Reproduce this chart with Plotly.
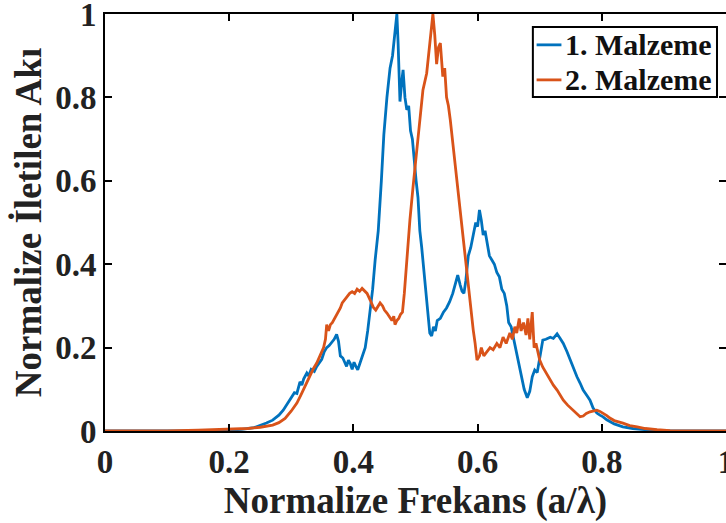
import plotly.graph_objects as go

# Series 1 (blue) - "1. Malzeme"
x1 = [0.00, 0.10, 0.18, 0.20, 0.22, 0.24, 0.25, 0.26, 0.27, 0.28, 0.287, 0.295, 0.300, 0.305, 0.309,
      0.312, 0.314, 0.317, 0.320, 0.325, 0.328, 0.332, 0.337, 0.341, 0.345, 0.349, 0.353, 0.357, 0.361,
      0.365, 0.369, 0.373, 0.376, 0.379, 0.383, 0.386, 0.389, 0.392, 0.395, 0.398, 0.401, 0.404, 0.407,
      0.410, 0.413, 0.416, 0.419, 0.423, 0.427, 0.431, 0.435, 0.440, 0.445, 0.449, 0.454, 0.459, 0.463,
      0.467, 0.470, 0.472, 0.475, 0.478, 0.480, 0.483, 0.486, 0.489, 0.492, 0.495, 0.498, 0.501, 0.504,
      0.507, 0.510, 0.514, 0.518, 0.521, 0.523, 0.526, 0.529, 0.532, 0.535, 0.540, 0.545, 0.550, 0.555,
      0.560, 0.565, 0.568, 0.572, 0.575, 0.578, 0.581, 0.585, 0.589, 0.593, 0.597, 0.600, 0.603, 0.606,
      0.609, 0.612, 0.615, 0.619, 0.623, 0.627, 0.631, 0.635, 0.639, 0.643, 0.647, 0.650, 0.654, 0.658,
      0.663, 0.667, 0.671, 0.675, 0.680, 0.684, 0.688, 0.692, 0.696, 0.700, 0.705, 0.710, 0.717, 0.722,
      0.728, 0.733, 0.738, 0.744, 0.749, 0.755, 0.760, 0.765, 0.770, 0.776, 0.781, 0.786, 0.792, 0.797,
      0.802, 0.808, 0.813, 0.820, 0.834, 0.850, 0.878, 0.900, 1.000]
y1 = [0.000, 0.000, 0.001, 0.002, 0.004, 0.008, 0.013, 0.019, 0.026, 0.038, 0.050, 0.068, 0.082, 0.092, 0.090,
      0.105, 0.118, 0.110, 0.125, 0.139, 0.132, 0.148, 0.143, 0.155, 0.165, 0.172, 0.190, 0.200, 0.205,
      0.212, 0.220, 0.232, 0.215, 0.180, 0.175, 0.165, 0.155, 0.170, 0.162, 0.148, 0.165, 0.155, 0.147,
      0.160, 0.175, 0.188, 0.200, 0.240, 0.290, 0.340, 0.410, 0.480, 0.600, 0.710, 0.800, 0.870, 0.900,
      0.960, 1.000, 0.930, 0.790, 0.840, 0.866, 0.800, 0.770, 0.780, 0.720, 0.700, 0.640, 0.600, 0.560,
      0.480, 0.440, 0.380, 0.320, 0.270, 0.235, 0.228, 0.250, 0.240, 0.265, 0.270, 0.285, 0.295, 0.310,
      0.330, 0.360, 0.374, 0.350, 0.335, 0.330, 0.360, 0.420, 0.440, 0.470, 0.500, 0.490, 0.530, 0.505,
      0.470, 0.480, 0.450, 0.420, 0.410, 0.400, 0.380, 0.370, 0.340, 0.330, 0.300, 0.260, 0.250, 0.220,
      0.190, 0.160, 0.130, 0.100, 0.080, 0.095, 0.130, 0.146, 0.140, 0.180, 0.218, 0.220, 0.225, 0.222,
      0.233, 0.222, 0.210, 0.190, 0.170, 0.150, 0.130, 0.115, 0.098, 0.085, 0.074, 0.055, 0.043, 0.038,
      0.034, 0.027, 0.022, 0.017, 0.010, 0.006, 0.002, 0.001, 0.000]

# Series 2 (orange) - "2. Malzeme"
x2 = [0.00, 0.10, 0.15, 0.20, 0.23, 0.25, 0.26, 0.27, 0.28, 0.29, 0.30, 0.309, 0.315, 0.319, 0.325,
      0.330, 0.335, 0.341, 0.345, 0.349, 0.352, 0.355, 0.357, 0.360, 0.363, 0.366, 0.370, 0.375, 0.379,
      0.382, 0.386, 0.390, 0.394, 0.398, 0.402, 0.406, 0.410, 0.414, 0.418, 0.422, 0.427, 0.432, 0.436,
      0.440, 0.443, 0.447, 0.450, 0.454, 0.458, 0.462, 0.465, 0.467, 0.470, 0.473, 0.476, 0.479, 0.482,
      0.486, 0.491, 0.496, 0.502, 0.507, 0.512, 0.518, 0.521, 0.523, 0.526, 0.528, 0.531, 0.534, 0.537,
      0.540, 0.544, 0.547, 0.550, 0.553, 0.556, 0.560, 0.564, 0.567, 0.572, 0.577, 0.583, 0.588, 0.593,
      0.596, 0.599, 0.603, 0.606, 0.610, 0.615, 0.620, 0.625, 0.631, 0.636, 0.641, 0.646, 0.652, 0.656,
      0.660, 0.663, 0.667, 0.670, 0.674, 0.678, 0.681, 0.684, 0.688, 0.691, 0.694, 0.697, 0.700, 0.705,
      0.710, 0.717, 0.722, 0.728, 0.733, 0.738, 0.745, 0.754, 0.760, 0.765, 0.770, 0.775, 0.781, 0.786,
      0.792, 0.797, 0.802, 0.808, 0.813, 0.820, 0.834, 0.845, 0.857, 0.870, 0.889, 0.910, 1.000]
y2 = [0.000, 0.000, 0.002, 0.004, 0.006, 0.009, 0.011, 0.014, 0.020, 0.030, 0.048, 0.067, 0.085, 0.098, 0.115,
      0.130, 0.148, 0.163, 0.178, 0.190, 0.200, 0.220, 0.255, 0.240, 0.255, 0.260, 0.270, 0.283, 0.295,
      0.307, 0.315, 0.322, 0.330, 0.334, 0.330, 0.340, 0.335, 0.342, 0.335, 0.330, 0.314, 0.297, 0.290,
      0.300, 0.307, 0.300, 0.290, 0.283, 0.275, 0.265, 0.275, 0.255, 0.265, 0.270, 0.280, 0.285, 0.330,
      0.410, 0.506, 0.585, 0.667, 0.746, 0.818, 0.858, 0.900, 0.914, 0.970, 1.000, 0.950, 0.880, 0.920,
      0.930, 0.850, 0.870, 0.800, 0.780, 0.746, 0.690, 0.650, 0.600, 0.523, 0.458, 0.370, 0.297, 0.242,
      0.210, 0.170, 0.180, 0.200, 0.180, 0.190, 0.200, 0.195, 0.210, 0.200, 0.225, 0.210, 0.235, 0.220,
      0.250, 0.235, 0.270, 0.240, 0.260, 0.230, 0.270, 0.220, 0.285, 0.200, 0.210, 0.190, 0.170, 0.153,
      0.140, 0.122, 0.110, 0.098, 0.085, 0.074, 0.062, 0.050, 0.040, 0.034, 0.036, 0.042, 0.046, 0.048,
      0.050, 0.047, 0.043, 0.037, 0.031, 0.025, 0.019, 0.013, 0.010, 0.006, 0.003, 0.001, 0.000]

names = ["1. Malzeme", "2. Malzeme"]
colors = ["#0072BD", "#D95319"]
tick_vals = [0, 0.2, 0.4, 0.6, 0.8, 1]
tick_text = ["0", "0.2", "0.4", "0.6", "0.8", "1"]

FONT = "Liberation Serif"

fig = go.Figure()
for xs, ys, nm, col in ((x1, y1, names[0], colors[0]), (x2, y2, names[1], colors[1])):
    fig.add_trace(go.Scatter(x=xs, y=ys, mode="lines", name=nm,
                             line=dict(color=col, width=2.8), showlegend=False))

axis_common = dict(
    range=[0, 1], showline=True, linecolor="black", linewidth=2, mirror="ticks",
    ticks="inside", ticklen=7, tickwidth=2, tickcolor="black",
    showgrid=False, zeroline=False, automargin=False,
    tickvals=tick_vals, ticktext=tick_text, ticklabeloverflow="allow",
    tickfont=dict(family=FONT, size=33, color="#222", weight="bold"),
)

# Legend box drawn in paper coordinates (top-right inside the axes)
leg_x0, leg_x1, leg_y0, leg_y1 = 0.689, 0.9855, 0.801, 0.969
row_y = [0.926, 0.842]
shapes = [dict(type="rect", xref="paper", yref="paper", x0=leg_x0, x1=leg_x1, y0=leg_y0, y1=leg_y1,
               line=dict(color="black", width=2), fillcolor="white", layer="above")]
annotations = []
for i in range(2):
    shapes.append(dict(type="line", xref="paper", yref="paper", x0=0.695, x1=0.735,
                       y0=row_y[i], y1=row_y[i], line=dict(color=colors[i], width=2.8), layer="above"))
    annotations.append(dict(xref="paper", yref="paper", x=0.737, y=row_y[i], xanchor="left",
                            yanchor="middle", showarrow=False, text=names[i],
                            font=dict(family=FONT, size=30, color="#111", weight="bold")))

fig.update_layout(
    width=726, height=523,
    margin=dict(l=105, r=0, t=14, b=92),
    paper_bgcolor="white", plot_bgcolor="white",
    xaxis=dict(**axis_common,
               title=dict(text="Normalize Frekans (a/λ)", standoff=4,
                          font=dict(family=FONT, size=37, color="#222", weight="bold"))),
    yaxis=dict(**axis_common,
               title=dict(text="Normalize İletilen Akı", standoff=2,
                          font=dict(family=FONT, size=37, color="#222", weight="bold"))),
    shapes=shapes, annotations=annotations,
    showlegend=False,
)

fig.write_html("out.html")
